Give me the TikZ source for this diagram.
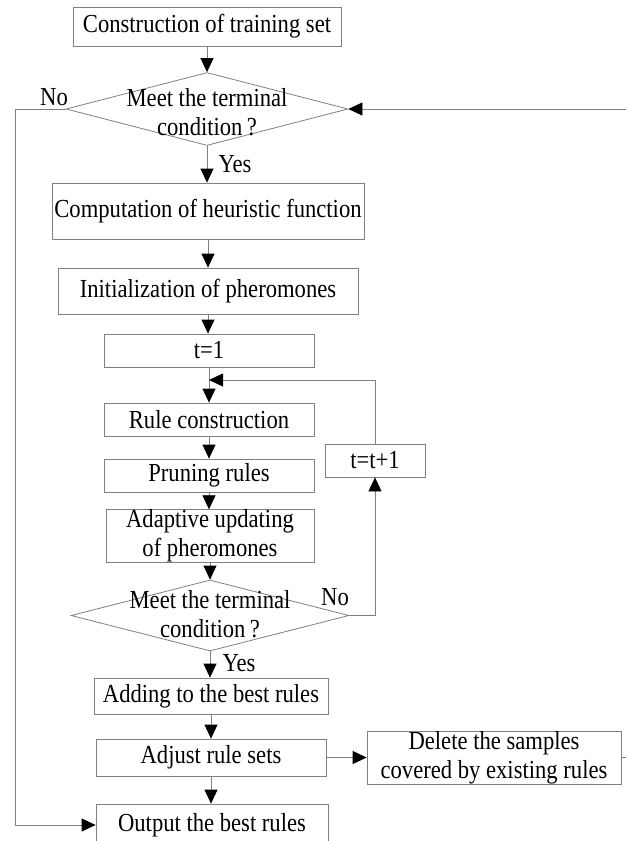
\documentclass[tikz,border=0pt]{standalone}
\usepackage{fontspec}
\setmainfont[FakeStretch=0.87]{Liberation Serif}
\usetikzlibrary{shapes.geometric,arrows.meta}

\begin{document}
\begin{tikzpicture}[x=1pt, y=-1pt]
\tikzset{every node/.style={font=\fontsize{26}{29}\selectfont}}
\tikzset{box/.style={draw=gray, line width=0.8pt, inner sep=0pt, align=center}}
\tikzset{cond/.style={draw=gray, line width=0.8pt, shape=diamond, inner sep=0pt}}
\tikzset{flow/.style={draw=gray, line width=0.8pt, -{Triangle[length=14pt, width=13pt, black]}}}
\useasboundingbox (0,0) rectangle (626,841);
% main column
\node[box, minimum width=268pt, minimum height=39pt] (build) at (207,26.5) {Construction of training set};
\node[cond, minimum width=282pt, minimum height=73pt] (cond1) at (207,109) {};
\node[align=center, inner sep=0pt] (cond1txt) at (207,112) {Meet the terminal\\condition\,?};
\node[box, minimum width=312pt, minimum height=56pt] (heur) at (208,211) {Computation of heuristic function};
\node[box, minimum width=300pt, minimum height=46pt] (init) at (208,291) {Initialization of pheromones};
\node[box, minimum width=210pt, minimum height=33pt] (tone) at (209,350.5) {t=1};
\node[box, minimum width=210pt, minimum height=33pt] (rule) at (209,419.5) {Rule construction};
\node[box, minimum width=210pt, minimum height=33pt] (prune) at (209,475.5) {Pruning rules};
\node[box, minimum width=208pt, minimum height=48pt] (adapt) at (210,536) {Adaptive updating\\of pheromones};
\node[box, minimum width=100pt, minimum height=33pt] (tinc) at (375,460.5) {t=t+1};
\node[cond, minimum width=278pt, minimum height=71pt] (cond2) at (210,615.5) {};
\node[align=center, inner sep=0pt] (cond2txt) at (210,614) {Meet the terminal\\condition\,?};
\node[box, minimum width=234pt, minimum height=36pt] (add) at (211,696) {Adding to the best rules};
\node[box, minimum width=230pt, minimum height=37pt] (adjust) at (211,757.5) {Adjust rule sets};
\node[box, minimum width=254pt, minimum height=53pt] (del) at (494,757.5) {Delete the samples\\covered by existing rules};
\node[box, minimum width=232pt, minimum height=42pt] (out) at (212,825) {Output the best rules};
% labels
\node (no1) at (54,97) {No};
\node (yes1) at (235,164) {Yes};
\node (no2) at (335,597) {No};
\node (yes2) at (239,663) {Yes};
% bends
\coordinate (lft) at (15,109);
\coordinate (rgt) at (640,757.5);
\coordinate (merge) at (209,380);
% connectors
\draw[flow] (build.south) -- (build.south |- cond1.north);
\draw[flow] (cond1.south) -- (cond1.south |- heur.north);
\draw[flow] (heur.south) -- (heur.south |- init.north);
\draw[flow] (init.south) -- (init.south |- tone.north);
\draw[flow] (tone.south) -- (rule.north);
\draw[flow] (rule.south) -- (prune.north);
\draw[flow] (prune.south) -- (prune.south |- adapt.north);
\draw[flow] (adapt.south) -- (cond2.north);
\draw[flow] (cond2.east) -| (tinc.south);
\draw[flow] (tinc.north) |- (merge);
\draw[flow] (cond2.south) -- (cond2.south |- add.north);
\draw[flow] (add.south) -- (add.south |- adjust.north);
\draw[flow] (adjust.east) -- (del.west);
\draw[flow] (adjust.south) -- (adjust.south |- out.north);
\draw[flow] (cond1.west) -- (lft) |- (out.west);
\draw[flow] (del.east) -- (rgt) |- (cond1.east);
\end{tikzpicture}
\end{document}
